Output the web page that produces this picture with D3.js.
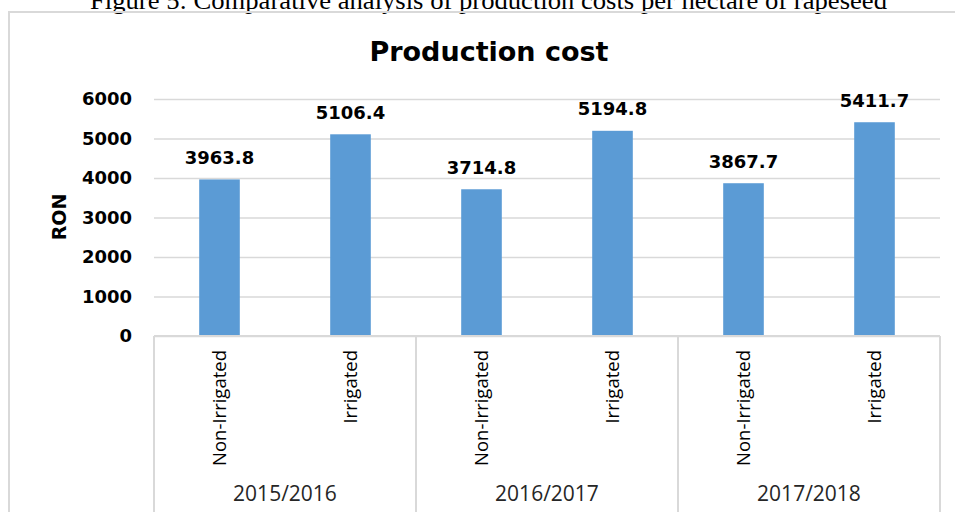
<!DOCTYPE html>
<html>
<head>
<meta charset="utf-8">
<script src="https://cdn.jsdelivr.net/npm/d3@7"></script>
<style>
  html, body { margin: 0; padding: 0; background: #fff; overflow: hidden; }
  svg { display: block; }
</style>
</head>
<body>
<div id="chart"></div>
<script>
// Dados
const years = ['2015/2016', '2016/2017', '2017/2018'];
const types = ['Non-Irrigated', 'Irrigated'];
const nonIrrigated = [3963.8, 3714.8, 3867.7];
const irrigated = [5106.4, 5194.8, 5411.7];
const yTicks = [0, 1000, 2000, 3000, 4000, 5000, 6000];

const W = 955, H = 512;
const plot = { left: 154, right: 940, top: 99, bottom: 336 };

const svg = d3.select('#chart').append('svg')
  .attr('width', W)
  .attr('height', H);

// Legenda da figura (cortada no topo, como no original)
svg.append('text')
  .attr('x', 90)
  .attr('y', 9)
  .attr('textLength', 797)
  .attr('lengthAdjust', 'spacingAndGlyphs')
  .style('font-family', '"Liberation Serif", "Times New Roman", serif')
  .style('font-size', '26px')
  .style('fill', '#000')
  .text('Figure 5: Comparative analysis of production costs per hectare of rapeseed');

// Moldura do gráfico
svg.append('rect')
  .attr('x', 9)
  .attr('y', 12)
  .attr('width', 960)
  .attr('height', 520)
  .attr('fill', 'none')
  .attr('stroke', '#d9d9d9')
  .attr('stroke-width', 2);

// Título
svg.append('text')
  .attr('x', 489)
  .attr('y', 61)
  .attr('text-anchor', 'middle')
  .style('font-family', '"DejaVu Sans", sans-serif')
  .style('font-weight', 'bold')
  .style('font-size', '27px')
  .style('fill', '#000')
  .text('Production cost');

// Escalas
const data = [];
years.forEach((yr, i) => {
  data.push({ year: yr, type: types[0], value: nonIrrigated[i] });
  data.push({ year: yr, type: types[1], value: irrigated[i] });
});

const x0 = d3.scaleBand()
  .domain(years)
  .range([plot.left, plot.right])
  .padding(0);

const x1 = d3.scaleBand()
  .domain(types)
  .range([0, x0.bandwidth()])
  .padding(0);

const y = d3.scaleLinear()
  .domain([0, 6000])
  .range([plot.bottom, plot.top]);

const barW = x1.bandwidth() * 0.31;

// Grade e eixo Y
const yAxis = svg.append('g')
  .attr('transform', `translate(${plot.left},0)`)
  .call(d3.axisLeft(y)
    .tickValues(yTicks)
    .tickFormat(d3.format('d'))
    .tickSize(-(plot.right - plot.left))
    .tickPadding(22));

yAxis.select('.domain').remove();
yAxis.selectAll('.tick line')
  .attr('stroke', '#d9d9d9')
  .attr('stroke-width', 1.5);
yAxis.selectAll('.tick text')
  .style('font-family', '"DejaVu Sans", sans-serif')
  .style('font-weight', 'bold')
  .style('font-size', '18px')
  .style('fill', '#000');

// Rótulo do eixo Y
svg.append('text')
  .attr('transform', `translate(66,217) rotate(-90)`)
  .attr('text-anchor', 'middle')
  .style('font-family', '"DejaVu Sans", sans-serif')
  .style('font-weight', 'bold')
  .style('font-size', '19px')
  .style('fill', '#000')
  .text('RON');

// Barras
const groups = svg.selectAll('.grp')
  .data(years)
  .enter()
  .append('g')
  .attr('class', 'grp')
  .attr('transform', d => `translate(${x0(d)},0)`);

groups.selectAll('rect')
  .data(yr => data.filter(d => d.year === yr))
  .enter()
  .append('rect')
  .attr('x', d => x1(d.type) + (x1.bandwidth() - barW) / 2)
  .attr('y', d => y(d.value))
  .attr('width', barW)
  .attr('height', d => y(0) - y(d.value))
  .attr('fill', '#5b9bd5');

// Valores
groups.selectAll('.label')
  .data(yr => data.filter(d => d.year === yr))
  .enter()
  .append('text')
  .attr('class', 'label')
  .attr('x', d => x1(d.type) + x1.bandwidth() / 2)
  .attr('y', d => y(d.value) - 15.5)
  .attr('text-anchor', 'middle')
  .style('font-family', '"DejaVu Sans", sans-serif')
  .style('font-weight', 'bold')
  .style('font-size', '18px')
  .style('fill', '#000')
  .text(d => d.value.toFixed(1));

// Eixo X (linha base e separadores)
svg.append('line')
  .attr('x1', plot.left)
  .attr('x2', plot.right)
  .attr('y1', y(0))
  .attr('y2', y(0))
  .attr('stroke', '#d9d9d9')
  .attr('stroke-width', 2);

const seps = years.map(yr => x0(yr)).concat([plot.right]);
svg.selectAll('.sep')
  .data(seps)
  .enter()
  .append('line')
  .attr('class', 'sep')
  .attr('x1', d => d)
  .attr('x2', d => d)
  .attr('y1', y(0))
  .attr('y2', H)
  .attr('stroke', '#d9d9d9')
  .attr('stroke-width', 2);

// Rótulos das categorias (verticais)
groups.selectAll('.cat')
  .data(types)
  .enter()
  .append('text')
  .attr('class', 'cat')
  .attr('transform', d => `translate(${x1(d) + x1.bandwidth() / 2},350) rotate(-90)`)
  .attr('dy', '0.35em')
  .attr('text-anchor', 'end')
  .style('font-family', '"Open Sans", sans-serif')
  .style('font-size', '18.5px')
  .style('fill', '#000')
  .text(d => d);

// Rótulos dos anos
svg.selectAll('.yr')
  .data(years)
  .enter()
  .append('text')
  .attr('class', 'yr')
  .attr('x', d => x0(d) + x0.bandwidth() / 2)
  .attr('y', 501)
  .attr('text-anchor', 'middle')
  .style('font-family', '"Open Sans", sans-serif')
  .style('font-size', '21px')
  .style('fill', '#262626')
  .text(d => d);
</script>
</body>
</html>
